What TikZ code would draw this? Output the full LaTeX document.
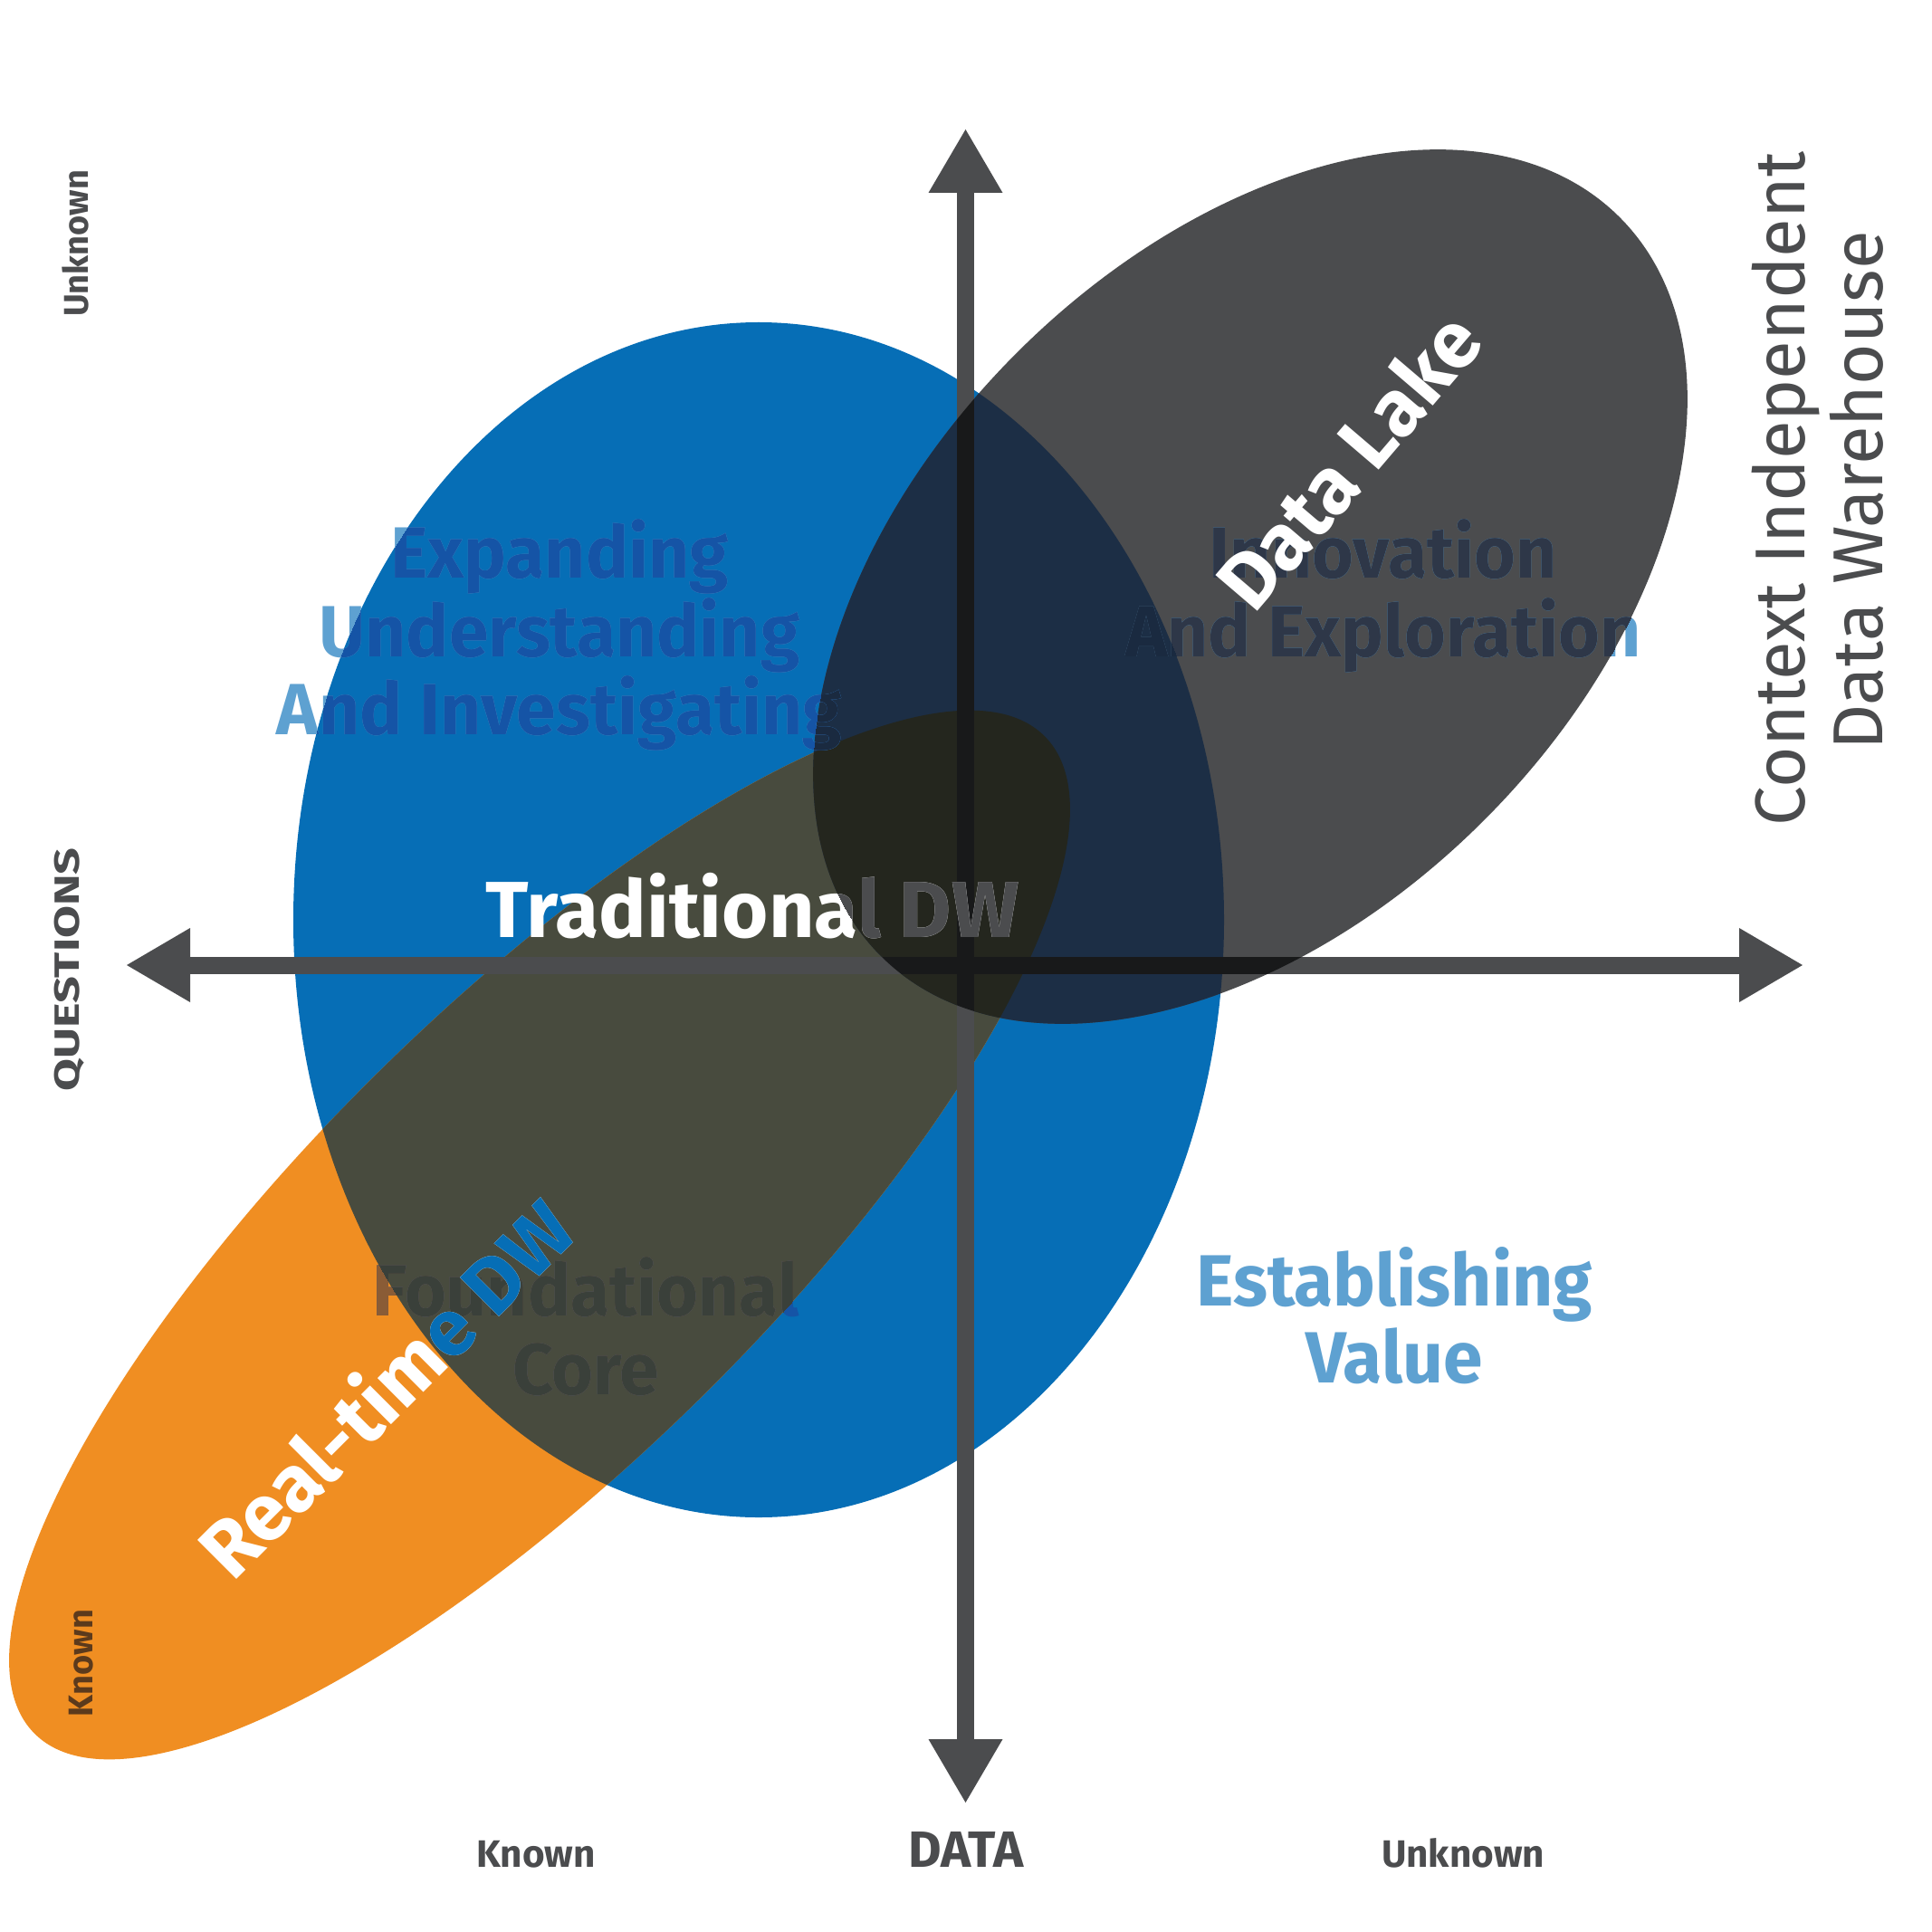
\documentclass[tikz,border=0pt]{standalone}
\usepackage{fontspec}
\setmainfont{Fira Sans}
\newfontfamily\widefont[FakeStretch=1.35]{Fira Sans}
\newfontfamily\narrowfont[FakeStretch=0.98]{Fira Sans}
\definecolor{cB}{HTML}{066EB6}
\definecolor{cO}{HTML}{F08E22}
\definecolor{cOB}{HTML}{484B3E}
\definecolor{cG}{HTML}{4B4C4E}
\definecolor{cGB}{HTML}{1C2E45}
\definecolor{cGBO}{HTML}{24261E}
\definecolor{cAxG}{HTML}{18191A}
\definecolor{cLB}{HTML}{5EA1D1}
\definecolor{cTB}{HTML}{1554A6}
\definecolor{cTG}{HTML}{2E3748}
\definecolor{cTGB}{HTML}{1A2A40}
\definecolor{cTO}{HTML}{8A5C36}
\definecolor{cTOB}{HTML}{3A403A}
\definecolor{cKn}{HTML}{5C3A1C}
\newcommand\ellB[1]{#1 (8.38,-10.16) ellipse [x radius=5.14cm, y radius=6.60cm];}
\newcommand\ellO[1]{#1[rotate around={44.6:(5.96,-13.64)}] (5.96,-13.64) ellipse [x radius=7.84cm, y radius=2.53cm];}
\newcommand\ellG[1]{#1[rotate around={45:(13.81,-6.48)}] (13.81,-6.48) ellipse [x radius=5.77cm, y radius=3.65cm];}
\newcommand\axesdraw[1]{%
  \draw[line width=0.19cm, #1] ([xshift=0.65cm]xl) -- ([xshift=-0.65cm]xr);
  \draw[line width=0.19cm, #1] ([yshift=-0.65cm]yt) -- ([yshift=0.65cm]yb);
  \fill[#1] (xl) -- ++(0.70,0.41) -- ++(0,-0.82) -- cycle;
  \fill[#1] (xr) -- ++(-0.70,0.41) -- ++(0,-0.82) -- cycle;
  \fill[#1] (yt) -- ++(0.41,-0.70) -- ++(-0.82,0) -- cycle;
  \fill[#1] (yb) -- ++(0.41,0.70) -- ++(-0.82,0) -- cycle;}
\newcommand\TxtExpand[2]{%
  \node[qtxt, text=#1] (#2a) at (6.18,-6.38) {Expanding};
  \node[qtxt, text=#1] (#2b) at (6.18,-7.25) {Understanding};
  \node[qtxt, text=#1] (#2c) at (6.18,-8.11) {And Investigating};}
\newcommand\TxtInnov[2]{%
  \node[qtxt, text=#1] (#2a) at (15.28,-6.38) {Innovation};
  \node[qtxt, text=#1] (#2b) at (15.28,-7.25) {And Exploration};}
\newcommand\TxtFound[2]{%
  \node[qtxt, text=#1] (#2a) at (6.47,-14.53) {Foundational};
  \node[qtxt, text=#1] (#2b) at (6.47,-15.40) {Core};}
\newcommand\TxtTrad[2]{\node[ttxt, text=#1] (#2) at (8.31,-10.35) {Traditional DW};}
\newcommand\TxtReal[2]{\node[ttxt, text=#1, rotate=45] (#2) at (4.49,-15.57) {Real-time DW};}
\tikzset{
  qtxt/.style={inner sep=0pt, anchor=base, font=\narrowfont\bfseries\fontsize{22.8}{24.75}\selectfont},
  ttxt/.style={inner sep=0pt, anchor=base, font=\bfseries\fontsize{25.0}{27}\selectfont},
  axlbl/.style={inner sep=0pt, anchor=base, text=cG, font=\bfseries\fontsize{10.8}{12}\selectfont},
  botlbl/.style={inner sep=0pt, anchor=base, text=cG, font=\bfseries\fontsize{12}{14}\selectfont},
  sidelbl/.style={inner sep=0pt, anchor=base, text=cG, rotate=90, font=\fontsize{22.2}{25}\selectfont}
}
\begin{document}
\begin{tikzpicture}[x=1cm,y=1cm]
\useasboundingbox (0,0) rectangle (21.33,-21.34);
\fill[white] (0,0) rectangle (21.33,-21.34);
\coordinate (xl) at (1.40,-10.66);
\coordinate (xr) at (19.91,-10.66);
\coordinate (yt) at (10.665,-1.43);
\coordinate (yb) at (10.665,-19.91);
% ellipses
\ellB{\fill[cB]}
\ellO{\fill[cO]}
\begin{scope}\ellB{\clip}\ellO{\fill[cOB]}\end{scope}
\ellG{\fill[cG]}
\begin{scope}\ellG{\clip}\ellB{\clip}\fill[cGB] (0,0) rectangle (21.33,-21.34);\ellO{\fill[cGBO]}\end{scope}
% axes
\axesdraw{cG}
\begin{scope}\ellG{\clip}\axesdraw{cAxG}\end{scope}
% quadrant texts
\TxtExpand{cLB}{exp}
\begin{scope}\ellB{\clip}\TxtExpand{cTB}{expb}\end{scope}
\begin{scope}\ellB{\clip}\ellG{\clip}\TxtExpand{cTGB}{expg}\end{scope}
\TxtInnov{cLB}{inn}
\begin{scope}\ellG{\clip}\TxtInnov{cTG}{inng}\end{scope}
\begin{scope}\ellG{\clip}\ellB{\clip}\TxtInnov{cTGB}{inngb}\end{scope}
\node[qtxt, text=cLB] (est) at (15.40,-14.42) {Establishing};
\node[qtxt, text=cLB] (val) at (15.40,-15.27) {Value};
\TxtFound{cTB}{fnd}
\begin{scope}\ellO{\clip}\TxtFound{cTO}{fndo}\end{scope}
\begin{scope}\ellO{\clip}\ellB{\clip}\TxtFound{cTOB}{fndob}\end{scope}
% ellipse labels
\TxtTrad{white}{trad}
\begin{scope}\ellG{\clip}\TxtTrad{cG}{tradg}\end{scope}
\TxtReal{white}{real}
\begin{scope}\ellB{\clip}\TxtReal{cB}{realb}\end{scope}
\node[ttxt, text=white, rotate=49.5] (lake) at (15.14,-5.30) {Data Lake};
% axis labels
\node[axlbl, rotate=90] (qunk) at (0.97,-2.69) {Unknown};
\node[axlbl, rotate=90, font=\widefont\bfseries\fontsize{11}{12}\selectfont] (ques) at (0.87,-10.71) {QUESTIONS};
\node[axlbl, rotate=90, text=cKn] (qkn) at (1.02,-18.37) {Known};
\node[botlbl] (dkn) at (5.92,-20.62) {Known};
\node[botlbl, font=\bfseries\fontsize{16}{18}\selectfont] (data) at (10.67,-20.62) {DATA};
\node[botlbl] (dunk) at (16.16,-20.62) {Unknown};
\node[sidelbl] (ctx) at (19.93,-5.40) {Context Independent};
\node[sidelbl] (dwh) at (20.79,-5.42) {Data Warehouse};
\end{tikzpicture}
\end{document}
